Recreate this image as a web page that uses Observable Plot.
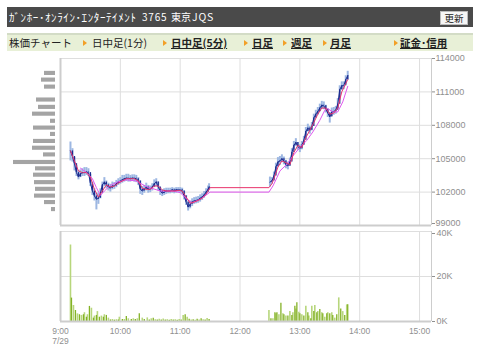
<!DOCTYPE html>
<html><head><meta charset="utf-8">
<script src="https://cdn.jsdelivr.net/npm/d3@7"></script>
<script src="https://cdn.jsdelivr.net/npm/@observablehq/plot@0.6"></script>
<style>
body{margin:0;background:#fff;}
#wrap{position:relative;width:480px;height:355px;overflow:hidden;font-family:"Noto Sans CJK JP",sans-serif;}
#hdr{position:absolute;left:7px;top:7px;width:466px;height:20px;background:#4a4a4a;color:#fff;}
#hdr span{position:absolute;top:0;line-height:20px;white-space:nowrap;}
#btn{position:absolute;left:433px;top:4px;width:26px;height:12px;background:#f6f6f6;border:1px solid #bbb;color:#222;font-size:9.5px;line-height:12px;text-align:center;}
#nav{position:absolute;left:7px;top:33px;width:466px;height:16px;background:#e8f0d7;border-top:2px solid #d3dcc6;}
#nav span{position:absolute;top:0;line-height:16px;font-size:10.5px;color:#222;white-space:nowrap;}
#nav span.lk{font-weight:bold;text-decoration:underline;}
#nav i{position:absolute;top:5px;width:0;height:0;border-left:4px solid #f2a028;border-top:3px solid transparent;border-bottom:3px solid transparent;}
.pl{position:absolute;left:0;}
</style></head>
<body><div id="wrap">
<div id="hdr"></div>
<div id="nav"></div>
</div>
<script>
// ---- header / nav text
const titleParts = ["ｶﾞﾝﾎｰ･ｵﾝﾗｲﾝ･ｴﾝﾀｰﾃｲﾒﾝﾄ", "3765", "東京", "JQS"];
const navItems = ["株価チャート", "日中足(1分)", "日中足(5分)", "日足", "週足", "月足", "証金･信用"];
const buttonLabel = "更新";

// ---- price axis / time axis
const priceTicks = [99000, 102000, 105000, 108000, 111000, 114000];
const volTicks = [0, 20, 40];
const timeTicks = [0, 60, 120, 180, 240, 300, 360];
const timeLabels = ["9:00", "10:00", "11:00", "12:00", "13:00", "14:00", "15:00"];
const dateLabel = "7/29";

// ---- candles (minutes after 9:00)
const candleT = [10,12,14,16,18,20,22,24,26,28,30,32,34,36,38,40,42,44,46,48,50,52,54,56,58,60,62,64,66,68,70,72,74,76,78,80,82,84,86,88,90,92,94,96,98,100,102,104,106,108,110,112,114,116,118,120,122,124,126,128,130,132,134,136,138,140,142,144,146,148,149,
  210,212,214,216,218,220,222,224,226,228,230,232,234,236,238,240,242,244,246,248,250,252,254,256,258,260,262,264,266,268,270,272,274,276,278,280,282,284,286,288];
const candleClose = [105700,105200,104550,103750,103350,103650,103750,103750,103800,103750,102800,102100,101650,101350,101450,101900,102650,102900,102650,102450,102350,102550,102550,102750,102900,103000,103100,103200,103250,103250,103200,103250,103250,103200,103000,102250,102100,102250,102450,102250,102250,102450,102750,102900,102450,102100,101900,102000,102100,102100,102100,102200,102100,102200,102200,102200,102100,101650,101100,100650,100900,101100,101200,101250,101300,101450,101550,101750,102000,102250,102450,
  102900,103000,103450,104250,104700,104800,105000,104800,104450,104350,104700,105550,106200,106450,106100,105900,106200,106650,107450,107750,107550,107900,108650,109000,109250,109550,109800,109750,109450,109100,108750,109200,109250,109350,109900,111200,111550,111550,112100,112450];
const candleHigh = [106500,105900,105100,104400,103900,104000,104100,104200,104200,104100,103600,102900,102300,101900,101900,102300,102900,103300,103000,102800,102700,102900,102850,103050,103200,103300,103500,103500,103600,103600,103500,103550,103550,103500,103300,103000,102500,102600,102800,102600,102550,102750,103100,103200,102900,102400,102200,102300,102350,102350,102350,102400,102350,102400,102400,102400,102350,102100,101700,101100,101200,101400,101500,101550,101600,101750,101850,102050,102300,102550,102750,
  103350,103300,103800,104600,105100,105200,105350,105150,104850,104700,105050,105900,106550,106800,106450,106250,106550,107000,107800,108100,107900,108250,109000,109350,109600,109900,110150,110100,109800,109450,109100,109550,109600,109700,110400,111550,111900,111900,112450,112850];
const candleLow = [104800,104700,103900,103400,103100,103300,103400,103400,103500,103400,102500,101700,101200,100400,100900,101400,102000,102500,102300,102100,102000,102200,102250,102400,102600,102700,102800,102900,102950,102900,102900,102950,102900,102850,102600,101800,101700,101900,102100,101900,101950,102100,102400,102500,102100,101700,101600,101700,101800,101850,101850,101900,101850,101900,101950,101900,101800,101300,100800,100300,100500,100700,100900,100950,101000,101100,101250,101450,101700,101950,102150,
  102450,102700,103100,103700,104300,104400,104650,104450,104100,104000,104300,105100,105800,106100,105750,105550,105800,106250,107000,107400,107200,107500,108250,108650,108900,109200,109450,109400,109100,108700,108200,108800,108900,109000,109500,110500,111150,111200,111700,112050];

// ---- short (red) and long (magenta) averages
const redT = [10,14,18,22,26,30,34,38,42,46,50,54,58,62,66,70,74,78,82,86,90,94,98,102,106,110,114,118,122,126,130,134,138,142,146,150,209,212,214,218,222,226,230,234,238,242,246,250,254,258,262,266,270,274,278,282,286,288];
const redP = [105700,104800,103900,103750,103750,103350,102250,101550,102100,102650,102450,102550,102800,103000,103200,103200,103200,103000,102350,102250,102250,102550,102550,102200,102100,102100,102100,102150,102100,101550,101000,101100,101250,101450,101800,102400,102400,102750,103200,104250,104800,104650,104450,105550,106200,106000,106900,107550,108250,109000,109550,109550,109000,109100,109550,111000,111750,112100];
const magT = [20,27,32,36,40,44,50,57,66,76,86,100,113,120,127,132,140,147,150,209,213,217,220,227,233,240,247,253,260,265,268,273,278,283,288];
const magP = [104150,103700,103200,102400,101700,102100,102600,102900,103100,103000,102500,102100,102100,101950,101350,101050,101350,101800,102000,102000,102550,103300,103900,104500,105250,106000,106650,107400,108450,109350,109500,109200,109200,110100,111500];

// ---- volume (thousand shares)
const volT = [10,11,13,15,17,19,21,23,24,26,27,29,31,33,34,36,37,39,41,43,44,46,48,50,52,54,56,58,59,62,64,66,68,71,73,75,77,79,82,84,87,89,91,93,95,97,99,101,103,105,107,109,111,113,115,117,119,121,123,125,127,129,131,133,135,137,139,141,143,145,147,149,
  209,211,213,215,216,217,219,221,223,224,226,228,230,232,233,235,236,237,239,240,242,244,246,248,249,251,252,254,255,257,258,260,262,263,265,267,268,270,272,273,275,277,279,281,283,285,287,288];
const volK = [34,10.4,7.1,4.9,3.4,3.0,2.7,3.0,3.9,1.9,3.0,6.7,5.9,1.5,2.4,2.7,4.4,1.9,2.4,1.9,3.0,2.7,1.5,0.7,0.9,0.6,0.8,0.7,1.9,0.9,0.9,2.2,1.2,0.9,1.2,0.9,1.2,3.4,1.5,0.9,1.6,0.7,1.2,1.5,0.8,0.7,1.0,0.7,1.1,0.7,0.8,0.6,0.9,0.7,0.8,0.6,0.9,0.7,2.7,3.0,1.9,1.0,0.7,0.8,0.6,1.0,0.7,1.2,0.8,0.7,1.3,0.9,
  4.9,1.2,1.2,3.9,3.4,3.9,3.0,8.1,3.4,3.0,2.4,2.4,4.4,2.7,3.9,6.8,5.6,8.3,4.1,3.4,3.0,2.4,6.8,3.9,2.4,1.2,6.8,4.4,7.1,3.9,4.4,5.3,3.9,3.4,1.9,3.4,3.9,3.4,3.9,2.7,1.5,3.0,10.5,5.6,4.4,2.7,7.4,7.4];

// ---- price-level volume profile (left)
const profP = [112660,112060,111430,110270,109610,109000,108360,107750,107180,106550,105940,105340,104660,104090,103520,102850,102250,101640,101060,100430];
const profV = [11,14,11,19,17,23,5,22,5,22,23,12,42,20,22,21,20,21,11,4];

// ================= build page =================
const hdr = document.getElementById("hdr");
const titleX = [2, 135, 164, 185];
const titleSize = [11, 10, 10, 10.5];
titleParts.forEach((t, i) => {
  const s = document.createElement("span");
  s.textContent = t; s.style.left = titleX[i] + "px"; s.style.fontSize = titleSize[i] + "px";
  if (i === 0) s.style.letterSpacing = "0.6px";
  if (i === 1 || i === 3) s.style.letterSpacing = "0.8px";
  hdr.appendChild(s);
});
const btn = document.createElement("div"); btn.id = "btn"; btn.textContent = buttonLabel; hdr.appendChild(btn);

const nav = document.getElementById("nav");
const navX = [2, 85, 164, 245, 284, 323, 393];
const arrowX = [null, 76, 156, 237, 276, 316, 387];
navItems.forEach((t, i) => {
  const s = document.createElement("span");
  s.textContent = t; s.style.left = navX[i] + "px";
  if (i >= 2) s.className = "lk";
  nav.appendChild(s);
  if (arrowX[i] != null) { const a = document.createElement("i"); a.style.left = arrowX[i] + "px"; nav.appendChild(a); }
});

const wrap = document.getElementById("wrap");
const fontCss = "'Liberation Sans', Arial, sans-serif";
const xDomain = [0, 372];
const yDomain = [99000, 114000];
const grid = "#dedede", frame = "#cdcdcd", axisCol = "#8f8f8f";

const candles = candleT.map((t, i) => ({
  t, c: candleClose[i], h: candleHigh[i], l: candleLow[i],
  o: i > 0 && t - candleT[i - 1] < 10 ? candleClose[i - 1] : candleClose[i],
  s: t < 180 ? "am" : "pm"
}));
const red = redT.map((t, i) => ({t, p: redP[i]}));
const mag = magT.map((t, i) => ({t, p: magP[i]}));
const vol = volT.map((t, i) => ({t, v: volK[i]}));
const prof = profP.map((p, i) => ({p, v: profV[i]}));

// price panel
const price = Plot.plot({
  width: 480, height: 180, marginLeft: 60, marginRight: 49, marginTop: 8, marginBottom: 5,
  style: {background: "transparent", overflow: "visible", fontFamily: fontCss, fontSize: "9px"},
  x: {domain: xDomain, axis: null},
  y: {domain: yDomain},
  marks: [
    Plot.ruleX(timeTicks.slice(1), {stroke: grid}),
    Plot.ruleY(priceTicks.slice(1, -1), {stroke: grid}),
    Plot.ruleY([114000], {stroke: grid}),
    Plot.ruleY([99000], {stroke: frame, strokeWidth: 2}),
    Plot.ruleX([0], {stroke: frame, strokeWidth: 2}),
    Plot.ruleX([372], {stroke: frame}),
    Plot.axisY({ticks: priceTicks.slice(1), anchor: "right", tickSize: 3, tickPadding: 1, tickFormat: d => String(d), color: axisCol, label: null}),
    Plot.axisY({ticks: [99000], anchor: "right", tickSize: 3, tickPadding: 1, tickFormat: d => String(d), color: axisCol, label: null, dy: -2}),
    Plot.ruleX(candles, {x: "t", y1: "l", y2: "h", stroke: "#9db7e2", strokeWidth: 2}),
    Plot.line(candles, {x: "t", y: "c", z: "s", stroke: "#1d2c8f", strokeWidth: 1}),
    Plot.ruleX(candles, {x: "t", y1: "o", y2: "c", stroke: "#1d2c8f", strokeWidth: 1.3}),
    Plot.line(mag, {x: "t", y: "p", stroke: "#e057ef", strokeWidth: 1}),
    Plot.line(red, {x: "t", y: "p", stroke: "#e8346c", strokeWidth: 1})
  ]
});
price.classList.add("pl"); price.style.top = "50px";
wrap.appendChild(price);

// volume profile
const profile = Plot.plot({
  width: 60, height: 180, marginLeft: 0, marginRight: 0, marginTop: 8, marginBottom: 5,
  style: {background: "transparent", overflow: "visible"},
  x: {domain: [0, 42], range: [55, 13], axis: null},
  y: {domain: yDomain, axis: null},
  marks: [
    Plot.rect(prof, {x1: 0, x2: "v", y1: d => d.p - 185, y2: d => d.p + 185, fill: "#a4a4a4"})
  ]
});
profile.classList.add("pl"); profile.style.top = "50px";
wrap.appendChild(profile);

// volume panel
const volume = Plot.plot({
  width: 480, height: 129, marginLeft: 60, marginRight: 49, marginTop: 5, marginBottom: 34,
  style: {background: "transparent", overflow: "visible", fontFamily: fontCss, fontSize: "9px"},
  x: {domain: xDomain, axis: null},
  y: {domain: [0, 40]},
  marks: [
    Plot.ruleX(timeTicks.slice(1), {stroke: grid}),
    Plot.ruleY([20], {stroke: grid}),
    Plot.ruleY([40], {stroke: grid}),
    Plot.ruleX([372], {stroke: frame}),
    Plot.ruleX(vol.filter((d, i) => i % 2 === 0), {x: "t", y1: 0, y2: "v", stroke: "#b7d67c", strokeWidth: 1.6}),
    Plot.ruleX(vol.filter((d, i) => i % 2 === 1), {x: "t", y1: 0, y2: "v", stroke: "#84b226", strokeWidth: 1.3}),
    Plot.ruleY([0], {stroke: frame, strokeWidth: 2}),
    Plot.ruleX([0], {stroke: frame, strokeWidth: 2}),
    Plot.axisY({ticks: volTicks.slice(0, 2), anchor: "right", tickSize: 3, tickPadding: 2, tickFormat: d => d + "K", color: axisCol, label: null}),
    Plot.axisY({ticks: [40], anchor: "right", tickSize: 3, tickPadding: 2, tickFormat: d => d + "K", color: axisCol, label: null, dy: 2}),
    Plot.text(timeLabels, {x: (d, i) => timeTicks[i], y: 0, dy: 10, text: d => d, fill: axisCol, fontSize: 8.5}),
    Plot.text([dateLabel], {x: 0, y: 0, dy: 20, text: d => d, fill: axisCol, fontSize: 8.5})
  ]
});
volume.classList.add("pl"); volume.style.top = "226px";
wrap.appendChild(volume);
</script>
</body></html>
